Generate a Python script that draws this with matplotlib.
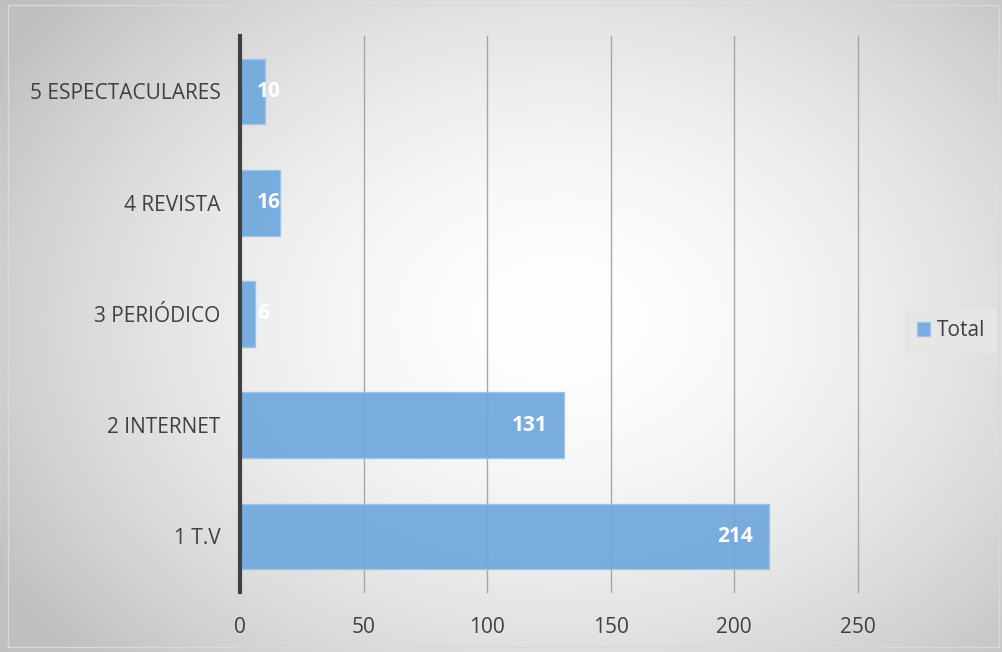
import matplotlib.pyplot as plt
import numpy as np

# Datos del gráfico
categorias = ["1 T.V", "2 INTERNET", "3 PERIÓDICO", "4 REVISTA", "5 ESPECTACULARES"]
totales = [214, 131, 6, 16, 10]
ticks_x = [0, 50, 100, 150, 200, 250]

plt.rcParams['font.family'] = ['Open Sans', 'DejaVu Sans']

fig = plt.figure(figsize=(10.02, 6.52), dpi=100)

# Fondo con degradado radial (blanco al centro, gris en los bordes)
fondo = fig.add_axes([0, 0, 1, 1], zorder=-10)
yy, xx = np.mgrid[0:652, 0:1002]
cx, cy = 560, 320
d = np.sqrt(((xx - cx) / 660.0) ** 2 + ((yy - cy) / 500.0) ** 2)
d = np.clip(d, 0, 1)
gris = 1.0 - 0.25 * d ** 1.7
fondo.imshow(np.dstack([gris, gris, gris]), aspect='auto', extent=[0, 1, 0, 1])
fondo.plot([0.008, 0.008, 0.997, 0.997, 0.008], [0.008, 0.992, 0.992, 0.008, 0.008],
           color='#d9d9d9', lw=1)
fondo.set_xlim(0, 1)
fondo.set_ylim(0, 1)
fondo.axis('off')

ax = fig.add_axes([0.2395, 0.092, 0.6165, 0.853])
ax.set_facecolor('none')

y = np.arange(len(categorias))
ax.barh(y, totales, height=0.59, color='#6fa8dc', edgecolor='#9ec4e8', linewidth=1,
        alpha=0.93, zorder=3)

ax.set_xlim(0, 250)
ax.set_ylim(-0.5, 4.5)
ax.set_xticks(ticks_x)
ax.set_yticks(y)
ax.set_yticklabels([c + " " for c in categorias], fontsize=15, color='#404040')
ax.tick_params(axis='x', length=0, pad=18, labelsize=15, labelcolor='#404040')
ax.tick_params(axis='y', length=0, pad=10)
ax.grid(axis='x', color='#a6a6a6', lw=1, zorder=1)
for gl in ax.get_xgridlines():
    gl.set_clip_on(False)

for s in ['top', 'right', 'bottom']:
    ax.spines[s].set_visible(False)
ax.spines['left'].set_color('#404040')
ax.spines['left'].set_linewidth(3)
ax.spines['left'].set_zorder(4)

# Etiquetas de valor dentro de las barras
for yi, v in zip(y, totales):
    if v > 30:
        ax.annotate(str(v), (v, yi), xytext=(-16, 0), textcoords='offset pixels',
                    ha='right', va='center', color='white', fontsize=15,
                    fontweight='bold', zorder=5)
    else:
        ax.annotate(str(v), (0, yi), xytext=(17, 0), textcoords='offset pixels',
                    ha='left', va='center', color='white', fontsize=15,
                    fontweight='bold', zorder=5)

# Leyenda
leg = ax.legend(['Total'], loc='center left', bbox_to_anchor=(1.06, 0.47),
                frameon=True, fancybox=False, fontsize=15, handlelength=0.65,
                handleheight=0.65, handletextpad=0.3, borderpad=0.55)
leg.get_frame().set_facecolor('#e6e6e6')
leg.get_frame().set_edgecolor('none')
leg.get_frame().set_alpha(1)
for t in leg.get_texts():
    t.set_color('#404040')

fig.savefig('out.png', dpi=100)
